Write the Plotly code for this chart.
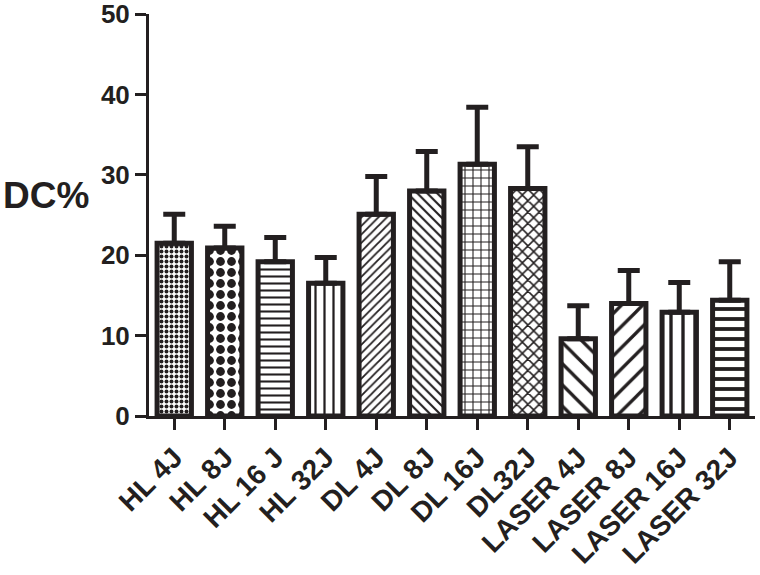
import plotly.graph_objects as go

groups = ["HL 4J", "HL 8J", "HL 16 J", "HL 32J", "DL 4J", "DL 8J", "DL 16J", "DL32J",
          "LASER 4J", "LASER 8J", "LASER 16J", "LASER 32J"]
dc_mean = [21.5, 20.9, 19.2, 16.5, 25.1, 28.0, 31.3, 28.3, 9.6, 14.0, 12.9, 14.4]
dc_sd = [3.6, 2.7, 3.0, 3.2, 4.7, 4.9, 7.1, 5.2, 4.1, 4.1, 3.7, 4.8]

shapes = [".", ".", "-", "|", "/", "\\", "+", "x", "\\", "/", "|", "-"]
sizes = [5, 11, 7, 9, 6, 7, 8, 8, 15, 15, 12, 10]
solid = [0.5, 0.5, 0.3, 0.25, 0.3, 0.3, 0.25, 0.35, 0.22, 0.22, 0.28, 0.38]

ink = "#231f20"
font_family = "Liberation Sans, Arial, sans-serif"

fig = go.Figure()
fig.add_trace(go.Bar(
    x=groups, y=dc_mean, width=0.68,
    marker=dict(color="white",
                line=dict(color=ink, width=5),
                pattern=dict(shape=shapes, size=sizes, solidity=solid,
                             fgcolor=ink, fgopacity=1, bgcolor="white")),
    error_y=dict(type="data", array=dc_sd, arrayminus=[0] * len(dc_sd), symmetric=False,
                 color=ink, thickness=5, width=11),
    showlegend=False))

fig.update_layout(
    width=760, height=575,
    margin=dict(l=149, r=5, t=14, b=159),
    plot_bgcolor="white", paper_bgcolor="white",
    font=dict(family=font_family, color=ink, size=24, weight="bold"),
    xaxis=dict(showline=True, linecolor=ink, linewidth=3,
               ticks="outside", ticklen=11, tickwidth=3, tickcolor=ink,
               tickangle=-45, tickfont=dict(size=28, weight="bold"),
               range=[-0.5, 11.5], automargin=False),
    yaxis=dict(range=[0, 50], tickvals=[0, 10, 20, 30, 40, 50],
               showline=True, linecolor=ink, linewidth=3,
               ticks="outside", ticklen=11, tickwidth=3, tickcolor=ink,
               showgrid=False, zeroline=False, automargin=False,
               ticklabeloverflow="allow",
               tickfont=dict(size=26, weight="bold")),
    annotations=[dict(text="DC%", xref="paper", yref="paper", x=-0.245, y=0.549,
                      xanchor="left", yanchor="middle", showarrow=False,
                      font=dict(size=37, weight="bold"))],
)

fig.write_html("out.html", config={"displayModeBar": False},
               post_script="document.body.style.margin='0px';")
